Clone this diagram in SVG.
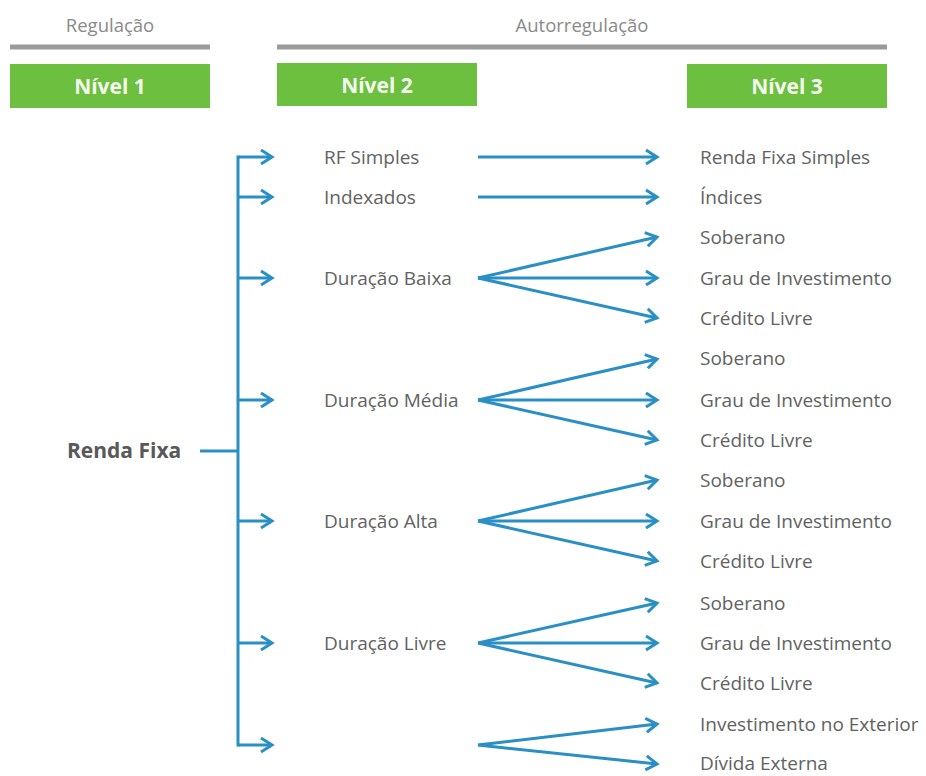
<svg xmlns="http://www.w3.org/2000/svg" width="926" height="776" viewBox="0 0 926 776">
<defs>
<marker id="ah" markerWidth="16" markerHeight="18" refX="13" refY="9" orient="auto" markerUnits="userSpaceOnUse">
<path d="M2,2 L13,9 L2,16" fill="none" stroke="#2a8fc4" stroke-width="3" stroke-linejoin="miter"/>
</marker>
</defs>
<style>
.hdr{font-family:"Open Sans",Lato,"Liberation Sans",sans-serif;font-size:18.5px;fill:#8a8a8a;text-anchor:middle}
.lvl{font-family:"Open Sans",Lato,"Liberation Sans",sans-serif;font-size:21px;font-weight:bold;fill:#f4f9ee;text-anchor:middle}
.gbox{fill:#6cbf3f}
.gline{stroke:#9a9a9a;stroke-width:5}
.t{font-family:"Open Sans",Lato,"Liberation Sans",sans-serif;font-size:19px;fill:#626262}
.rf{font-family:"Open Sans",Lato,"Liberation Sans",sans-serif;font-size:21px;font-weight:bold;fill:#595959}
.c{stroke:#2a8fc4;stroke-width:3;fill:none}
.a{stroke:#2a8fc4;stroke-width:3;fill:none;marker-end:url(#ah)}
</style>
<rect width="926" height="776" fill="#ffffff"/>
<g id="header">
<text class="hdr" x="110" y="32">Regulação</text>
<line class="gline" x1="10" y1="47" x2="210" y2="47"/>
<text class="hdr" x="582" y="32">Autorregulação</text>
<line class="gline" x1="277" y1="47" x2="887" y2="47"/>
</g>
<g id="nivel1"><rect class="gbox" x="10" y="64" width="200" height="44"/><text class="lvl" x="110" y="94">Nível 1</text></g>
<g id="nivel2"><rect class="gbox" x="277" y="63" width="200" height="43"/><text class="lvl" x="377" y="93">Nível 2</text></g>
<g id="nivel3"><rect class="gbox" x="687" y="64" width="200" height="44"/><text class="lvl" x="787" y="94">Nível 3</text></g>

<g id="renda-fixa"><text class="rf" x="67" y="458">Renda Fixa</text></g>

<g id="rf-simples"><text class="t" x="324" y="164">RF Simples</text></g>
<g id="indexados"><text class="t" x="324" y="204">Indexados</text></g>
<g id="duracao-baixa"><text class="t" x="324" y="285">Duração Baixa</text></g>
<g id="duracao-media"><text class="t" x="324" y="407">Duração Média</text></g>
<g id="duracao-alta"><text class="t" x="324" y="528">Duração Alta</text></g>
<g id="duracao-livre"><text class="t" x="324" y="650">Duração Livre</text></g>

<g id="renda-fixa-simples"><text class="t" x="700" y="164">Renda Fixa Simples</text></g>
<g id="indices"><text class="t" x="700" y="204">Índices</text></g>
<g id="baixa-soberano"><text class="t" x="700" y="244">Soberano</text></g>
<g id="baixa-grau"><text class="t" x="700" y="285">Grau de Investimento</text></g>
<g id="baixa-credito"><text class="t" x="700" y="325">Crédito Livre</text></g>
<g id="media-soberano"><text class="t" x="700" y="365">Soberano</text></g>
<g id="media-grau"><text class="t" x="700" y="407">Grau de Investimento</text></g>
<g id="media-credito"><text class="t" x="700" y="447">Crédito Livre</text></g>
<g id="alta-soberano"><text class="t" x="700" y="487">Soberano</text></g>
<g id="alta-grau"><text class="t" x="700" y="528">Grau de Investimento</text></g>
<g id="alta-credito"><text class="t" x="700" y="568">Crédito Livre</text></g>
<g id="livre-soberano"><text class="t" x="700" y="610">Soberano</text></g>
<g id="livre-grau"><text class="t" x="700" y="650">Grau de Investimento</text></g>
<g id="livre-credito"><text class="t" x="700" y="690">Crédito Livre</text></g>
<g id="inv-exterior"><text class="t" x="700" y="731">Investimento no Exterior</text></g>
<g id="divida-externa"><text class="t" x="700" y="770">Dívida Externa</text></g>

<g id="connectors">
<line class="c" x1="200" y1="451" x2="238" y2="451"/>
<line class="c" x1="238" y1="155.5" x2="238" y2="746.5"/>
<path class="a" d="M238,157 L272,157"/>
<path class="a" d="M238,197 L272,197"/>
<path class="a" d="M238,278 L272,278"/>
<path class="a" d="M238,400 L272,400"/>
<path class="a" d="M238,521 L272,521"/>
<path class="a" d="M238,643 L272,643"/>
<path class="a" d="M238,745 L272,745"/>

<path class="a" d="M478,157 L657,157"/>
<path class="a" d="M478,197 L657,197"/>
<path class="a" d="M478,278 L657,237"/>
<path class="a" d="M478,278 L657,278"/>
<path class="a" d="M478,278 L657,318"/>
<path class="a" d="M478,400 L657,359"/>
<path class="a" d="M478,400 L657,400"/>
<path class="a" d="M478,400 L657,440"/>
<path class="a" d="M478,521 L657,480"/>
<path class="a" d="M478,521 L657,521"/>
<path class="a" d="M478,521 L657,561"/>
<path class="a" d="M478,643 L657,603"/>
<path class="a" d="M478,643 L657,643"/>
<path class="a" d="M478,643 L657,683"/>
<path class="a" d="M478,745 L657,724"/>
<path class="a" d="M478,745 L657,764"/>
</g>
</svg>
